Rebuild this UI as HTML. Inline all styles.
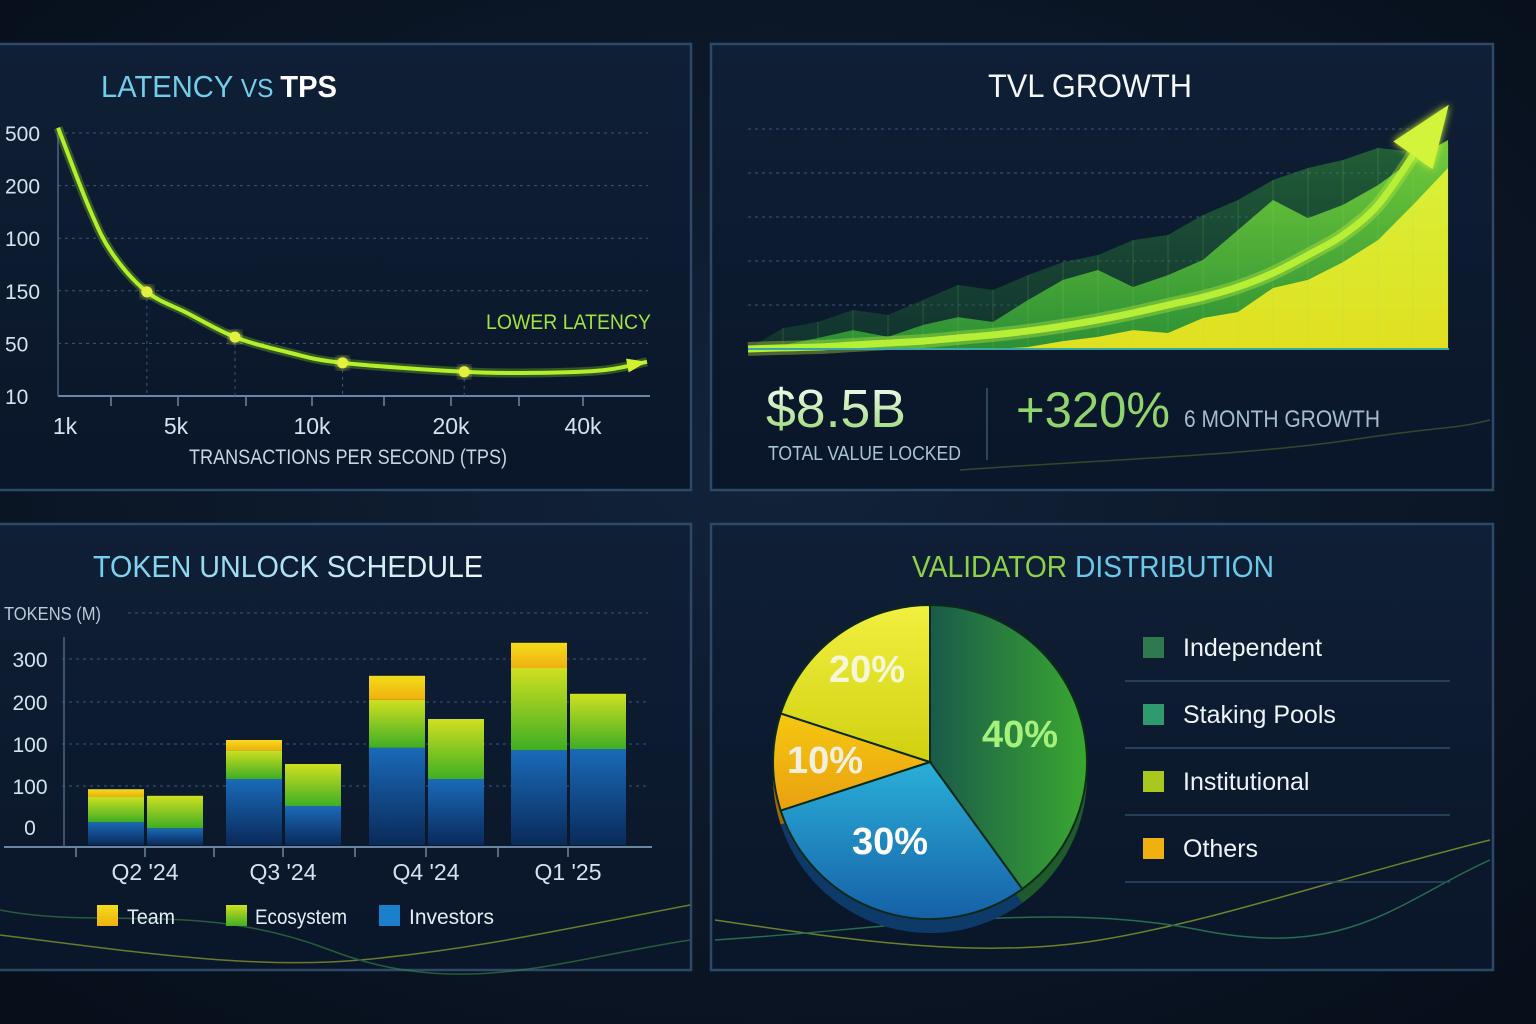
<!DOCTYPE html>
<html><head><meta charset="utf-8"><style>
html,body{margin:0;padding:0;background:#08121f;}
svg{display:block;}
text{font-family:"Liberation Sans Narrow","Liberation Sans",sans-serif;}
</style></head><body>
<svg id="root" width="1536" height="1024" viewBox="0 0 1536 1024" xmlns="http://www.w3.org/2000/svg">
<defs>
<radialGradient id="bg" cx="50%" cy="45%" r="70%"><stop offset="0" stop-color="#12233a"/><stop offset="1" stop-color="#070f1b"/></radialGradient>
<linearGradient id="panelFill" x1="0" y1="0" x2="0" y2="1"><stop offset="0" stop-color="#0f1f35"/><stop offset="1" stop-color="#0a1629"/></linearGradient>
<linearGradient id="glowEdge" x1="0" y1="0" x2="1" y2="0"><stop offset="0" stop-color="#2a4a6a"/><stop offset="0.6" stop-color="#5a8a5a"/><stop offset="1" stop-color="#d6f030"/></linearGradient>
<linearGradient id="glowEdgeFull" x1="0" y1="0" x2="1" y2="0"><stop offset="0" stop-color="#c8e830"/><stop offset="0.5" stop-color="#6a9a50"/><stop offset="1" stop-color="#e0f030"/></linearGradient>
<linearGradient id="titleGrad" x1="0" y1="0" x2="1" y2="0"><stop offset="0" stop-color="#6fd0ee"/><stop offset="1" stop-color="#f2f6fa"/></linearGradient>
<linearGradient id="bigGrad" x1="0" y1="0" x2="0" y2="1"><stop offset="0" stop-color="#ffffff"/><stop offset="1" stop-color="#8fd66a"/></linearGradient>
<linearGradient id="gBack" x1="0" y1="0" x2="0" y2="1"><stop offset="0" stop-color="#2f8a3a" stop-opacity="0.75"/><stop offset="1" stop-color="#1a5a34" stop-opacity="0.5"/></linearGradient>
<linearGradient id="gMid" x1="0" y1="0" x2="0" y2="1"><stop offset="0" stop-color="#7cd83a"/><stop offset="1" stop-color="#2f9a36"/></linearGradient>
<linearGradient id="gFront" x1="0" y1="0" x2="0" y2="1"><stop offset="0" stop-color="#d8f038"/><stop offset="1" stop-color="#e0e020"/></linearGradient>
<linearGradient id="gTeam" x1="0" y1="0" x2="0" y2="1"><stop offset="0" stop-color="#f2dc1a"/><stop offset="1" stop-color="#f0b010"/></linearGradient>
<linearGradient id="gEco" x1="0" y1="0" x2="0" y2="1"><stop offset="0" stop-color="#cfe020"/><stop offset="1" stop-color="#3fae24"/></linearGradient>
<linearGradient id="gInv" x1="0" y1="0" x2="0" y2="1"><stop offset="0" stop-color="#1a6ab8"/><stop offset="1" stop-color="#0a2a5a"/></linearGradient>
<linearGradient id="pGreen" x1="0" y1="0" x2="1" y2="0"><stop offset="0" stop-color="#1a5a4a"/><stop offset="1" stop-color="#3aa830"/></linearGradient>
<linearGradient id="pBlue" x1="0" y1="0" x2="0" y2="1"><stop offset="0" stop-color="#2ab0d8"/><stop offset="1" stop-color="#1660a8"/></linearGradient>
<linearGradient id="pOrange" x1="0" y1="0" x2="0" y2="1"><stop offset="0" stop-color="#f5c810"/><stop offset="1" stop-color="#eaa010"/></linearGradient>
<linearGradient id="pYellow" x1="0" y1="0" x2="0" y2="1"><stop offset="0" stop-color="#f2f040"/><stop offset="1" stop-color="#d0d010"/></linearGradient>
<filter id="glow" x="-20%" y="-20%" width="140%" height="140%"><feGaussianBlur stdDeviation="4" result="b"/><feMerge><feMergeNode in="b"/><feMergeNode in="SourceGraphic"/></feMerge></filter>
</defs>
<rect width="1536" height="1024" fill="url(#bg)"/>

<g>
<rect x="-4" y="44" width="695" height="446" fill="url(#panelFill)" stroke="#2c4a68" stroke-width="2.5"/>
<line x1="380" y1="490" x2="691" y2="490" stroke="url(#glowEdge)" stroke-width="3"/>
</g>
<g>
<rect x="711" y="44" width="782" height="446" fill="url(#panelFill)" stroke="#2c4a68" stroke-width="2.5"/>
<line x1="711" y1="490" x2="1493" y2="490" stroke="url(#glowEdgeFull)" stroke-width="3"/>
</g>
<g>
<rect x="-4" y="524" width="695" height="446" fill="url(#panelFill)" stroke="#2c4a68" stroke-width="2.5"/>
<line x1="300" y1="970" x2="691" y2="970" stroke="url(#glowEdge)" stroke-width="3"/>
</g>
<g>
<rect x="711" y="524" width="782" height="446" fill="url(#panelFill)" stroke="#2c4a68" stroke-width="2.5"/>
<line x1="711" y1="970" x2="1493" y2="970" stroke="url(#glowEdgeFull)" stroke-width="3"/>
</g>

<g fill="none" stroke-width="1.5" opacity="0.6">
<path d="M0 935 C120 950 250 970 360 960 S560 930 690 905" stroke="#a8c030"/>
<path d="M0 910 C100 930 200 900 330 950 S560 960 690 940" stroke="#3a8a4a"/>
<path d="M715 920 C850 940 980 960 1100 940 S1330 880 1490 840" stroke="#b0c830"/>
<path d="M715 940 C880 930 1050 900 1200 930 S1400 900 1490 860" stroke="#3aa86a"/>
<path d="M960 470 C1100 460 1250 455 1350 440 S1450 430 1490 420" stroke="#9ab830" opacity="0.5"/>
</g>

<text x="101" y="97" font-size="31" textLength="236" lengthAdjust="spacingAndGlyphs"><tspan fill="#72cdea">LATENCY </tspan><tspan fill="#72cdea" font-size="26">VS </tspan><tspan fill="#ffffff" font-weight="bold">TPS</tspan></text>
<g id="latency"></g>

<text x="1090" y="97" font-size="32" fill="#f4f6f8" text-anchor="middle" textLength="204" lengthAdjust="spacingAndGlyphs">TVL GROWTH</text>
<g id="tvl"></g>
<text x="766" y="427" font-size="54" fill="url(#bigGrad)" textLength="140" lengthAdjust="spacingAndGlyphs">$8.5B</text>
<text x="768" y="460" font-size="20" fill="#a9c3d6" textLength="193" lengthAdjust="spacingAndGlyphs">TOTAL VALUE LOCKED</text>
<line x1="987" y1="388" x2="987" y2="460" stroke="#3a5470" stroke-width="1.5"/>
<text x="1016" y="427" font-size="50" fill="#8fd46c" textLength="154" lengthAdjust="spacingAndGlyphs">+320%</text>
<text x="1184" y="427" font-size="24" fill="#a6bccd" textLength="196" lengthAdjust="spacingAndGlyphs">6 MONTH GROWTH</text>

<text x="93" y="577" font-size="31" fill="url(#titleGrad)" textLength="390" lengthAdjust="spacingAndGlyphs">TOKEN UNLOCK SCHEDULE</text>
<text x="4" y="620" font-size="18" fill="#b8cbdc" textLength="97" lengthAdjust="spacingAndGlyphs">TOKENS (M)</text>
<g id="bars"></g>

<text x="1093" y="577" font-size="31" text-anchor="middle" textLength="362" lengthAdjust="spacingAndGlyphs"><tspan fill="#8fd04a">VALIDATOR </tspan><tspan fill="#6cc8e8">DISTRIBUTION</tspan></text>
<g id="pie"></g>
<g id="pieLegend"></g>
</svg>
<script>
// ---------- LATENCY DATA ----------
const latTickLabels = ["10","50","150","100","200","500"];
const tpsTickLabels = ["1k","5k","10k","20k","40k"];
const tpsTickValues = [1,5,10,20,40];
const latCurveTps = [0.75,1.86,2.69,3.95,5.4,7.17,9.2,12.2,22,32.9,43,49.7];
const latCurveLevel = [5.1,3.59,2.72,1.98,1.58,1.12,0.82,0.63,0.46,0.44,0.49,0.65];
const latDotTps = [3.95,7.17,12.2,22];
const latDotLevel = [1.98,1.12,0.63,0.46];

// ---------- TVL DATA ----------
const tvlBack = [0,0.95,1.23,1.77,1.55,2.23,2.91,2.68,3.36,3.95,4.27,4.95,5.18,6.09,6.77,7.68,8.23,8.59,9.14,8.95,9.36];
const tvlMid = [0,0.18,0.5,0.86,0.55,1.09,1.45,1.23,2.23,3.14,3.59,2.82,3.36,4.05,5.41,6.77,5.95,6.55,7.45,8.59,9.5];
const tvlFront = [0,0,0,0,0,0,0,0,0.09,0.36,0.55,0.86,0.73,1.41,1.68,2.77,3.14,3.95,4.95,6.55,8.23];
const tvlTrend = [0,0.05,0.09,0.18,0.27,0.36,0.5,0.64,0.82,1.05,1.32,1.64,2.0,2.36,2.82,3.45,4.27,5.18,6.55,8.8];
const tvlGridValues = [2,4,6,8,10];

// ---------- TOKEN DATA ----------
const quarters = ["Q2 '24","Q3 '24","Q4 '24","Q1 '25"];
const tokenTickLabels = ["0","100","100","200","300"];
const invA = [38,110,162,158];
const ecoA = [43,48,80,137];
const teamA = [12,17,40,42];
const invB = [28,65,110,160];
const ecoB = [54,70,100,92];
const teamB = [0,0,0,0];

// ---------- VALIDATOR DATA ----------
const pieLabels = ["40%","30%","10%","20%"];
const pieValues = [40,30,10,20];
const legendLabels = ["Independent","Staking Pools","Institutional","Others"];

const NS="http://www.w3.org/2000/svg";
function mk(tag,attrs,parent){const e=document.createElementNS(NS,tag);for(const k in attrs)e.setAttribute(k,attrs[k]);if(parent)parent.appendChild(e);return e;}
function smooth(pts){let d="M"+pts[0][0]+" "+pts[0][1];for(let i=0;i<pts.length-1;i++){const p0=pts[i-1]||pts[i],p1=pts[i],p2=pts[i+1],p3=pts[i+2]||p2;const c1=[p1[0]+(p2[0]-p0[0])/6,p1[1]+(p2[1]-p0[1])/6],c2=[p2[0]-(p3[0]-p1[0])/6,p2[1]-(p3[1]-p1[1])/6];d+=" C"+c1[0]+" "+c1[1]+" "+c2[0]+" "+c2[1]+" "+p2[0]+" "+p2[1];}return d;}

(function(){
const g=document.getElementById('latency');
const tickPx=[65,176,312,451,583];
function xS(v){let i=0;while(i<tpsTickValues.length-2&&v>tpsTickValues[i+1])i++;const a=tpsTickValues[i],b=tpsTickValues[i+1];return tickPx[i]+(v-a)/(b-a)*(tickPx[i+1]-tickPx[i]);}
function yS(l){return 396-l*52.6;}
latTickLabels.forEach((t,i)=>{
  const y=yS(i);
  if(i>0){const gl=mk('line',{x1:58,y1:y,x2:648,y2:y,stroke:'#3a5878','stroke-width':1,'stroke-dasharray':'3 4'},g);
  
  }
  const tx=mk('text',{x:5,y:y+8,'font-size':21,fill:'#d4e2ef'},g);tx.textContent=t;
  
  
});
const ax=mk('line',{x1:58,y1:396,x2:650,y2:396,stroke:'#6a86a2','stroke-width':2},g);


const ay=mk('line',{x1:58,y1:130,x2:58,y2:396,stroke:'#4a6682','stroke-width':1.5},g);


[111,178,246,312,384,451,519,583].forEach(x=>{const t=mk('line',{x1:x,y1:396,x2:x,y2:406,stroke:'#6a86a2','stroke-width':1.5},g);

});
tpsTickLabels.forEach((t,i)=>{const tx=mk('text',{x:xS(tpsTickValues[i]),y:434,'font-size':23,fill:'#d4e2ef','text-anchor':'middle'},g);tx.textContent=t;

});
const at=mk('text',{x:348,y:464,'font-size':21,fill:'#c6d6e4','text-anchor':'middle',textLength:318,lengthAdjust:'spacingAndGlyphs'},g);at.textContent='TRANSACTIONS PER SECOND (TPS)';


const ll=mk('text',{x:651,y:329,'font-size':21,fill:'#a2e23c','text-anchor':'end',textLength:165,lengthAdjust:'spacingAndGlyphs'},g);ll.textContent='LOWER LATENCY';


latDotTps.forEach((v,i)=>{const d=mk('line',{x1:xS(v),y1:yS(latDotLevel[i]),x2:xS(v),y2:396,stroke:'#3a5878','stroke-dasharray':'3 4'},g);

});
const pts=latCurveTps.map((v,i)=>[xS(v),yS(latCurveLevel[i])]);
const glowP=mk('path',{d:smooth(pts),fill:'none',stroke:'#8fe020','stroke-width':9,opacity:0.3},g);


const p=mk('path',{d:smooth(pts),fill:'none',stroke:'#b4f02a','stroke-width':4},g);


const n=pts.length,e=pts[n-1],s=pts[n-2];const ang=Math.atan2(e[1]-s[1],e[0]-s[0]);
const hx=e[0]-20*Math.cos(ang),hy=e[1]-20*Math.sin(ang);
const ah=mk('polygon',{points:`${e[0]},${e[1]} ${hx+7*Math.sin(ang)},${hy-7*Math.cos(ang)} ${hx-7*Math.sin(ang)},${hy+7*Math.cos(ang)}`,fill:'#d0f030'},g);


latDotTps.forEach((v,i)=>{const c=mk('circle',{cx:xS(v),cy:yS(latDotLevel[i]),r:5.5,fill:'#e4f040',filter:'url(#glow)'},g);

});
})();

(function(){
const g=document.getElementById('tvl');
const xS=i=>748+i*35, yS=v=>349-v*22;
tvlGridValues.forEach(v=>{const l=mk('line',{x1:748,y1:yS(v),x2:1440,y2:yS(v),stroke:'#3a5878','stroke-dasharray':'3 4'},g);

});
function area(arr,fill,name,op){let d='M'+xS(0)+' '+yS(0);arr.forEach((v,i)=>d+=' L'+xS(i)+' '+yS(v));d+=' L'+xS(arr.length-1)+' '+yS(0)+' Z';const a=mk('path',{d:d,fill:fill,opacity:op},g);

}
area(tvlBack,'url(#gBack)','tvl-area-back',0.8);
area(tvlMid,'url(#gMid)','tvl-area-mid',0.9);
area(tvlFront,'url(#gFront)','tvl-area-front',1);
for(let i=1;i<tvlBack.length;i++){const l=mk('line',{x1:xS(i),y1:yS(tvlBack[i]),x2:xS(i),y2:349,stroke:'#9ad860','stroke-width':0.6,opacity:0.3},g);

}
const pts=tvlTrend.map((v,i)=>[xS(i),yS(v)]);
const tg=mk('path',{d:smooth(pts),fill:'none',stroke:'#c8f040','stroke-width':14,opacity:0.35},g);


const t=mk('path',{d:smooth(pts),fill:'none',stroke:'#b6f036','stroke-width':7},g);


const n=pts.length,e=pts[n-1],s=pts[n-2];const ang=Math.atan2(e[1]-s[1],e[0]-s[0]);
const tipx=e[0]+62*Math.cos(ang),tipy=e[1]+62*Math.sin(ang);
const px=-Math.sin(ang),py=Math.cos(ang);
const h=mk('polygon',{points:`${tipx},${tipy} ${e[0]+24*px},${e[1]+24*py} ${e[0]-24*px},${e[1]-24*py}`,fill:'#d2f43a',filter:'url(#glow)'},g);


const b=mk('line',{x1:748,y1:349,x2:1449,y2:349,stroke:'#3aa8a0','stroke-width':2},g);


})();

(function(){
const g=document.getElementById('bars');
const gridY=[827,786,744,702,659];
tokenTickLabels.forEach((t,i)=>{
  if(i>0){const l=mk('line',{x1:62,y1:gridY[i],x2:648,y2:gridY[i],stroke:'#3a5878','stroke-dasharray':'3 4'},g);
  
  }
  const tx=mk('text',{x:30,y:gridY[i]+8,'font-size':21,fill:'#d4e2ef','text-anchor':'middle'},g);tx.textContent=t;
  
  
});
const tl=mk('line',{x1:128,y1:613,x2:648,y2:613,stroke:'#3a5878','stroke-dasharray':'3 4'},g);


const yS=v=>845-v*0.6;
const groupCenter=[145,283,426,568];
const bw=56;
function seg(x,y0,v,fill,name){if(v<=0)return y0;const y1=y0-v*0.6;const r=mk('rect',{x:x,y:y1,width:bw,height:v*0.6,fill:fill},g);

return y1;}
quarters.forEach((q,i)=>{
  const xa=groupCenter[i]-57, xb=groupCenter[i]+2;
  let y=yS(0);y=seg(xa,y,invA[i],'url(#gInv)','bar-investors');y=seg(xa,y,ecoA[i],'url(#gEco)','bar-ecosystem');seg(xa,y,teamA[i],'url(#gTeam)','bar-team');
  y=yS(0);y=seg(xb,y,invB[i],'url(#gInv)','bar-investors');y=seg(xb,y,ecoB[i],'url(#gEco)','bar-ecosystem');seg(xb,y,teamB[i],'url(#gTeam)','bar-team');
  const tx=mk('text',{x:groupCenter[i],y:880,'font-size':23,fill:'#d4e2ef','text-anchor':'middle'},g);tx.textContent=q;
  
  
});
const ax=mk('line',{x1:4,y1:847,x2:652,y2:847,stroke:'#6a86a2','stroke-width':2},g);


const ay=mk('line',{x1:64,y1:637,x2:64,y2:847,stroke:'#4a6682','stroke-width':1.5},g);


[76,145,214,283,355,426,498,568].forEach(x=>{const t=mk('line',{x1:x,y1:847,x2:x,y2:857,stroke:'#6a86a2','stroke-width':1.5},g);

});
const leg=[['Team','url(#gTeam)',97,127,48],['Ecosystem','url(#gEco)',226,255,92],['Investors','#1a80cc',379,409,85]];
leg.forEach(l=>{
  const r=mk('rect',{x:l[2],y:905,width:21,height:21,fill:l[1]},g);
  
  
  const tx=mk('text',{x:l[3],y:924,'font-size':21,fill:'#e4ecf4',textLength:l[4],lengthAdjust:'spacingAndGlyphs'},g);tx.textContent=l[0];
  
  
});
})();

(function(){
const g=document.getElementById('pie');
const cx=930,cy=762,r=157;
const fills=['url(#pGreen)','url(#pBlue)','url(#pOrange)','url(#pYellow)'];
const rim=['#1e5a2a','#0e3a6a','#9a6a08','#8a8a10'];
const labelPos=[[1020,747],[890,854],[825,773],[867,682]];
const labelCol=['#a6f07c','#ffffff','#f4f0e0','#f6f6d8'];
const total=pieValues.reduce((a,b)=>a+b,0);
let a0=-Math.PI/2;
pieValues.forEach((v,i)=>{const a1=a0+v/total*2*Math.PI;
  const d=`M${cx} ${cy+14} L${cx+r*Math.cos(a0)} ${cy+14+r*Math.sin(a0)} A${r} ${r} 0 ${a1-a0>Math.PI?1:0} 1 ${cx+r*Math.cos(a1)} ${cy+14+r*Math.sin(a1)} Z`;
  const p=mk('path',{d:d,fill:rim[i]},g);
  
  
  a0=a1;});
a0=-Math.PI/2;
pieValues.forEach((v,i)=>{const a1=a0+v/total*2*Math.PI;
  const d=`M${cx} ${cy} L${cx+r*Math.cos(a0)} ${cy+r*Math.sin(a0)} A${r} ${r} 0 ${a1-a0>Math.PI?1:0} 1 ${cx+r*Math.cos(a1)} ${cy+r*Math.sin(a1)} Z`;
  const p=mk('path',{d:d,fill:fills[i],stroke:'#0c2a1a','stroke-width':2},g);
  
  
  a0=a1;});
pieLabels.forEach((t,i)=>{const tx=mk('text',{x:labelPos[i][0],y:labelPos[i][1],'font-size':38,'font-weight':'bold',fill:labelCol[i],'text-anchor':'middle'},g);tx.textContent=t;
  
  });
const lg=document.getElementById('pieLegend');
const sw=['#2e7a4e','#2e9a6e','#a8c820','#f0b010'];
legendLabels.forEach((t,i)=>{const y=637+i*67;
  const r=mk('rect',{x:1143,y:y,width:21,height:21,fill:sw[i]},lg);
  
  
  const tx=mk('text',{x:1183,y:y+19,'font-size':25,fill:'#eef3f8'},lg);tx.textContent=t;
  
  
  const l=mk('line',{x1:1125,y1:y+44,x2:1450,y2:y+44,stroke:'#2e4a66','stroke-width':1.5},lg);
  
  });
})();
</script>
</body></html>
